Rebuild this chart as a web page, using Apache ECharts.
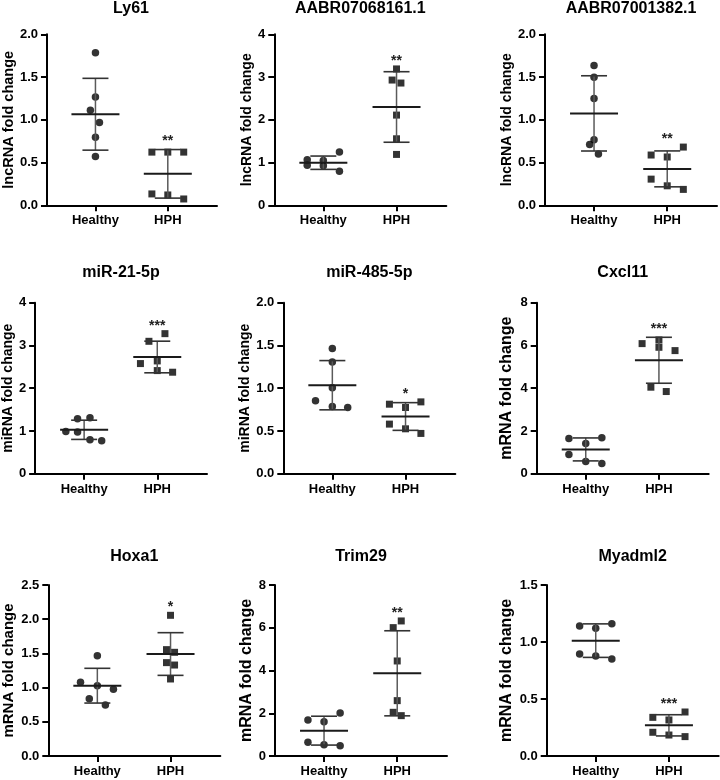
<!DOCTYPE html>
<html><head><meta charset="utf-8">
<script src="https://cdn.jsdelivr.net/npm/echarts@6/dist/echarts.min.js"></script>
<style>html,body{margin:0;padding:0;background:#fff}#c{width:720px;height:780px}</style>
</head><body><div id="c"></div>
<script>
// ---------- data ----------
const panelTitles = ['Ly61','AABR07068161.1','AABR07001382.1','miR-21-5p','miR-485-5p','Cxcl11','Hoxa1','Trim29','Myadml2'];
const yAxisNames = ['lncRNA fold change','lncRNA fold change','lncRNA fold change','miRNA fold change','miRNA fold change','mRNA fold change','mRNA fold change','mRNA fold change','mRNA fold change'];
const categories = ['Healthy','HPH'];
const yMax = [2,4,2,4,2,8,2.5,8,1.5];
const yInterval = [0.5,1,0.5,1,0.5,2,0.5,2,0.5];
const yDecimals = [1,0,1,0,1,0,1,0,1];
const significance = ['**','**','**','***','*','***','*','**','***'];

const healthyValues = [
  [1.785,1.268,1.111,0.967,0.795,0.571],
  [1.066,0.934,1.05,0.926,1.245,0.794],
  [1.636,1.497,1.249,0.766,0.712,0.600],
  [1.284,1.307,0.988,0.973,0.794,0.770],
  [1.463,1.307,1.004,0.852,0.786,0.774],
  [1.65,1.68,1.416,0.903,0.576,0.482],
  [1.467,1.077,1.028,0.975,0.838,0.746],
  [1.685,2.012,1.607,0.640,0.530,0.484],
  [1.140,1.161,1.120,0.895,0.877,0.851]
];
const healthyJitter = [
  [0,0,-0.07,0.055,0,0],
  [-0.22,-0.22,0,0,0.22,0.22],
  [0,0,0,0,-0.06,0.06],
  [-0.09,0.08,-0.25,-0.09,0.08,0.24],
  [0,0,0,-0.23,0,0.21],
  [-0.23,0.22,0,-0.23,0,0.22],
  [0,-0.23,0,0.22,-0.11,0.11],
  [-0.22,0.22,0,-0.22,0,0.22],
  [-0.22,0.22,0,-0.22,0,0.22]
];
const hphValues = [
  [0.622,0.622,0.622,0.133,0.121,0.074],
  [3.19,2.93,2.86,2.11,1.556,1.19],
  [0.681,0.588,0.565,0.306,0.228,0.186],
  [3.276,3.097,2.576,2.638,2.412,2.374],
  [0.813,0.840,0.774,0.580,0.525,0.471],
  [6.257,5.914,6.086,5.759,4.047,3.844],
  [2.057,1.555,1.516,1.365,1.330,1.126],
  [6.318,6.006,4.446,2.59,2.044,1.888],
  [0.386,0.339,0.316,0.208,0.184,0.170]
];
const hphJitter = [
  [-0.22,0,0.22,-0.22,0,0.22],
  [0,-0.06,0.06,0,0,0],
  [0.22,-0.22,0,-0.22,0,0.22],
  [0.105,-0.114,-0.23,0,0,0.21],
  [-0.22,0.21,0,-0.22,0,0.21],
  [0,0,-0.23,0.22,-0.11,0.1],
  [0,-0.055,0.055,-0.055,0.055,0],
  [0.055,-0.055,0,0,-0.055,0.055],
  [0.22,-0.22,0,-0.22,0,0.22]
];
const healthyMean = [1.065,0.996,1.075,1.027,1.035,1.136,1.028,1.186,1.012];
const healthySD   = [0.42,0.156,0.44,0.225,0.288,0.537,0.254,0.675,0.147];
const hphMean     = [0.368,2.30,0.426,2.73,0.669,5.307,1.491,3.869,0.269];
const hphSD       = [0.284,0.825,0.21,0.37,0.162,1.075,0.312,1.99,0.093];

// ---------- layout ----------
const layout = {
  lefts: [45,274.3,545, 35,283.3,536.7, 48.3,275,546.7],
  rowTops: [34.3,302.7,585],
  titleTops: [0.5,265,548.5],
  width: 172, height: 171,
  nameGap: [28,18,31,18,27,22,31.5,17.7,32],
  nameSize: [14.5,14,14,14,14,16,15,16,16]
};
const FONT = '"Liberation Sans", Arial, sans-serif';

const grids = [], xAxes = [], yAxes = [], titles = [], series = [];

function renderBars(params, api) {
  const x = api.value(0), m = api.value(1), s = api.value(2);
  const c = api.coord([x, m]);
  const t = api.coord([x, m + s]);
  const b = api.coord([x, m - s]);
  const cap = {stroke:'#333', lineWidth:1.6};
  return {type:'group', children:[
    {type:'line', shape:{x1:c[0],y1:t[1],x2:c[0],y2:b[1]}, style:{stroke:'#5a5a5a', lineWidth:1.5}},
    {type:'line', shape:{x1:c[0]-13,y1:t[1],x2:c[0]+13,y2:t[1]}, style:cap},
    {type:'line', shape:{x1:c[0]-13,y1:b[1],x2:c[0]+13,y2:b[1]}, style:cap},
    {type:'line', shape:{x1:c[0]-24,y1:c[1],x2:c[0]+24,y2:c[1]}, style:{stroke:'#1a1a1a',lineWidth:2}}
  ]};
}

for (let p = 0; p < 9; p++) {
  const row = Math.floor(p / 3);
  const left = layout.lefts[p];
  grids.push({left: left, top: layout.rowTops[row], width: layout.width, height: layout.height, containLabel: false});
  titles.push({
    text: panelTitles[p], left: left + layout.width / 2, top: layout.titleTops[row], textAlign: 'center', padding: 0,
    textStyle: {fontFamily: FONT, fontWeight: 'bold', fontSize: 16, color: '#000'}
  });
  xAxes.push({
    type: 'value', gridIndex: p, min: -0.67, max: 1.68,
    splitLine: {show: false},
    axisLine: {onZero: false, lineStyle: {color: '#000', width: 2}},
    axisTick: {show: true, customValues: [0, 1], length: 6, lineStyle: {color: '#000', width: 2}},
    axisLabel: {customValues: [0, 1], formatter: v => categories[Math.round(v)], margin: 9,
      fontFamily: FONT, fontWeight: 'bold', fontSize: 13, color: '#000'}
  });
  const dec = yDecimals[p];
  yAxes.push({
    type: 'value', gridIndex: p, min: 0, max: yMax[p], interval: yInterval[p],
    name: yAxisNames[p], nameLocation: 'middle', nameGap: layout.nameGap[p],
    nameTextStyle: {fontFamily: FONT, fontWeight: 'bold', fontSize: layout.nameSize[p], color: '#000'},
    splitLine: {show: false},
    axisLine: {show: true, onZero: false, lineStyle: {color: '#000', width: 2}},
    axisTick: {show: true, length: 6, lineStyle: {color: '#000', width: 2}},
    axisLabel: {formatter: v => v.toFixed(dec), margin: 9,
      fontFamily: FONT, fontWeight: 'bold', fontSize: 13, color: '#000'}
  });
  series.push({
    type: 'scatter', xAxisIndex: p, yAxisIndex: p, symbol: 'circle', symbolSize: 7.5,
    itemStyle: {color: '#000'}, silent: true, z: 2,
    data: healthyValues[p].map((v, i) => [0 + healthyJitter[p][i], v])
  });
  series.push({
    type: 'scatter', xAxisIndex: p, yAxisIndex: p, symbol: 'rect', symbolSize: 7,
    itemStyle: {color: '#000'}, silent: true, z: 2,
    data: hphValues[p].map((v, i) => [1 + hphJitter[p][i], v])
  });
  series.push({
    type: 'custom', xAxisIndex: p, yAxisIndex: p, renderItem: renderBars, silent: true, z: 3,
    data: [[0, healthyMean[p], healthySD[p]], [1, hphMean[p], hphSD[p]]]
  });
  const topVal = Math.max(Math.max(...hphValues[p]), hphMean[p] + hphSD[p]);
  series.push({
    type: 'custom', xAxisIndex: p, yAxisIndex: p, silent: true, z: 4,
    data: [[1, topVal, p]],
    renderItem: (params, api) => {
      const c = api.coord([api.value(0), api.value(1)]);
      return {type: 'text', style: {text: significance[api.value(2)], x: c[0], y: c[1] - 1,
        align: 'center', verticalAlign: 'bottom', fontFamily: FONT, fontWeight: 'bold', fontSize: 14, fill: '#222'}};
    }
  });
}

const chart = echarts.init(document.getElementById('c'), null, {renderer: 'canvas'});
chart.setOption({
  animation: false, backgroundColor: '#fff',
  title: titles, grid: grids, xAxis: xAxes, yAxis: yAxes, series: series
});
</script></body></html>
